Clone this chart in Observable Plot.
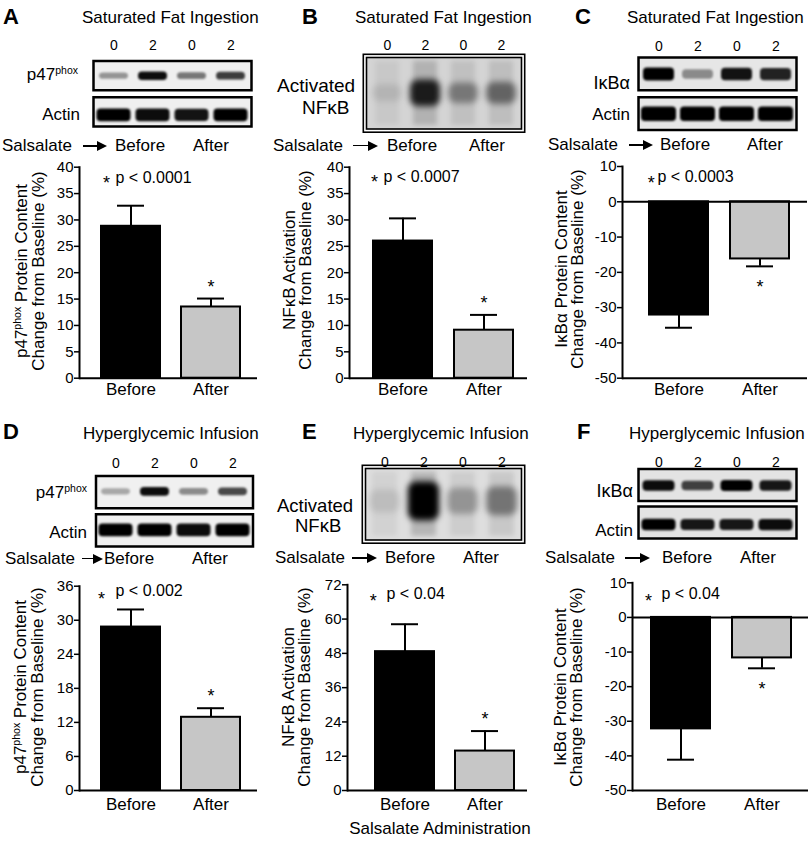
<!DOCTYPE html>
<html><head><meta charset="utf-8">
<script src="https://cdn.jsdelivr.net/npm/d3@7"></script>
<script src="https://cdn.jsdelivr.net/npm/@observablehq/plot@0.6"></script>
<style>
html,body{margin:0;padding:0;background:#fff;}
#fig{position:relative;width:810px;height:842px;overflow:hidden;font-family:"Liberation Sans",Arial,Helvetica,sans-serif;color:#000;}
#fig svg{position:absolute;}
.lbl{position:absolute;white-space:nowrap;line-height:1;}
.sup{font-size:10.5px;position:relative;top:-0.62em;}
.ylab{position:absolute;width:260px;text-align:center;font-size:17px;line-height:16px;white-space:nowrap;transform:translate(-50%,-50%) rotate(-90deg);}
.arrow{position:absolute;height:10px;}
.arrow .shaft{position:absolute;left:0;top:4.2px;height:1.6px;background:#000;}
.arrow .head{position:absolute;right:0;top:0;width:0;height:0;border-left:10px solid #000;border-top:5px solid transparent;border-bottom:5px solid transparent;}
</style></head>
<body><div id="fig"></div>
<script>
// ---------------- DATA ----------------
const groups = ["Before", "After"];
const laneTimes = ["0", "2", "0", "2"];
const laneGroups = ["Before", "Before", "After", "After"];
const conditions = ["Saturated Fat Ingestion", "Hyperglycemic Infusion"];
const panelLetters = ["A", "B", "C", "D", "E", "F"];

// bar means and SEM (% change from baseline)
const meanA = [28.8, 13.5];  const errA = [3.9, 1.6];
const meanB = [26.0, 9.1];   const errB = [4.3, 2.9];
const meanC = [-32.1, -16.2]; const errC = [3.6, 2.1];
const meanD = [28.8, 12.9];  const errD = [3.1, 1.6];
const meanE = [48.6, 13.8];  const errE = [9.6, 7.0];
const meanF = [-32.2, -11.7]; const errF = [8.9, 3.0];

// y-axis tick values
const ticksA = [0, 5, 10, 15, 20, 25, 30, 35, 40];
const ticksB = [0, 5, 10, 15, 20, 25, 30, 35, 40];
const ticksC = [-50, -40, -30, -20, -10, 0, 10];
const ticksD = [0, 6, 12, 18, 24, 30, 36];
const ticksE = [0, 12, 24, 36, 48, 60, 72];
const ticksF = [-50, -40, -30, -20, -10, 0, 10];

const pLabels = ["p < 0.0001", "p < 0.0007", "p < 0.0003", "p < 0.002", "p < 0.04", "p < 0.04"];

// blot band intensities (lanes: 0, 2 before; 0, 2 after)
const blotA_p47 = [0.38, 0.95, 0.5, 0.75];
const blotA_actin = [1.0, 0.95, 0.92, 1.0];
const blotB_nfkb = [0.1, 0.85, 0.38, 0.48];
const blotC_ikba = [1.0, 0.4, 0.92, 0.85];
const blotC_actin = [1.0, 1.0, 1.0, 1.0];
const blotD_p47 = [0.3, 0.95, 0.42, 0.7];
const blotD_actin = [1.0, 1.0, 0.95, 1.0];
const blotE_nfkb = [0.1, 1.0, 0.28, 0.42];
const blotF_ikba = [0.95, 0.72, 1.0, 0.9];
const blotF_actin = [1.0, 0.9, 0.9, 0.95];

// ---------------- STYLE ----------------
const FONT = '"Liberation Sans", Arial, Helvetica, sans-serif';
const barColors = ["#000000", "#c6c6c6"];
const fig = document.getElementById("fig");

function addSvg(svg, left, top) {
  svg.style.left = left + "px"; svg.style.top = top + "px";
  fig.appendChild(svg);
}
function text(html, x, y, opts = {}) {
  const {align = "left", size = 17, weight = "normal"} = opts;
  const d = document.createElement("div");
  d.className = "lbl"; d.innerHTML = html;
  d.style.left = x + "px"; d.style.top = y + "px";
  d.style.fontSize = size + "px"; d.style.fontWeight = weight;
  d.style.transform = `translate(${align === "left" ? "0" : align === "right" ? "-100%" : "-50%"},-50%)`;
  fig.appendChild(d);
}
function ylab(lines, cx, cy) {
  const d = document.createElement("div");
  d.className = "ylab"; d.innerHTML = lines.join("<br>");
  d.style.left = cx + "px"; d.style.top = cy + "px";
  fig.appendChild(d);
}
function arrow(x1, x2, y) {
  const d = document.createElement("div");
  d.className = "arrow";
  d.style.left = x1 + "px"; d.style.top = (y - 5) + "px"; d.style.width = (x2 - x1) + "px";
  d.innerHTML = `<div class="shaft" style="width:${x2 - x1 - 8}px"></div><div class="head"></div>`;
  fig.appendChild(d);
}
let blurCount = 0;
function makeBlur(svg, sd) {
  const ns = "http://www.w3.org/2000/svg";
  const id = "blotblur" + (blurCount++);
  let defs = svg.querySelector("defs");
  if (!defs) { defs = document.createElementNS(ns, "defs"); svg.insertBefore(defs, svg.firstChild); }
  const f = document.createElementNS(ns, "filter");
  f.setAttribute("id", id);
  f.setAttribute("x", "-80%"); f.setAttribute("y", "-150%");
  f.setAttribute("width", "260%"); f.setAttribute("height", "400%");
  const g = document.createElementNS(ns, "feGaussianBlur");
  g.setAttribute("in", "SourceGraphic");
  g.setAttribute("stdDeviation", String(sd));
  f.appendChild(g); defs.appendChild(f);
  return id;
}
function applyBlur(group, id) {
  if (!group) return;
  group.querySelectorAll("rect").forEach(r => r.setAttribute("filter", `url(#${id})`));
}

// ---------------- BAR CHARTS ----------------
function barChart(c) {
  const data = groups.map((g, i) => ({
    group: g, mean: c.mean[i], err: c.err[i],
    end: c.mean[i] + Math.sign(c.mean[i]) * c.err[i]
  }));
  const [mt, mr, mb, ml] = c.margins;
  const neg = c.ticks[0] < 0;
  const svg = Plot.plot({
    width: 270, height: c.height,
    marginTop: mt, marginRight: mr, marginBottom: mb, marginLeft: ml,
    style: {background: "transparent", overflow: "visible", fontFamily: FONT, color: "black"},
    x: {domain: groups, range: c.range, paddingInner: c.pad, paddingOuter: 0},
    y: {domain: [c.ticks[0], c.ticks[c.ticks.length - 1]]},
    color: {domain: groups, range: barColors},
    marks: [
      Plot.barY(data, {x: "group", y: "mean", fill: "group", stroke: "black", strokeWidth: 2}),
      Plot.ruleX(data, {x: "group", y1: "mean", y2: "end", stroke: "black", strokeWidth: 2}),
      Plot.tickY(data, {x: "group", y: "end", stroke: "black", strokeWidth: 2, insetLeft: 16, insetRight: 16}),
      neg ? Plot.ruleY([0], {stroke: "black", strokeWidth: 2}) : null,
      Plot.ruleY([c.ticks[0]], {stroke: "black", strokeWidth: 2}),
      Plot.frame({anchor: "left", stroke: "black", strokeWidth: 2}),
      Plot.axisY({ticks: c.ticks, tickSize: 5, tickPadding: 1, fontSize: 15, label: null, tickFormat: d => String(d), strokeWidth: 1.5}),
      Plot.axisX({tickSize: 0, tickPadding: c.xpad, fontSize: 17, label: null}),
      Plot.text(data.filter(d => d.group === "After"), {x: "group", y: "end", text: () => "*", fontSize: 18, dy: neg ? 21 : -11.5}),
      Plot.text([c.p], {text: d => d, frameAnchor: "top-left", textAnchor: "start", lineAnchor: "middle",
        dx: c.pPos[0] - c.left - ml, dy: c.pPos[1] - c.top - mt, fontSize: 16}),
      Plot.text(["*"], {text: d => d, frameAnchor: "top-left", textAnchor: "middle", lineAnchor: "middle",
        dx: c.sPos[0] - c.left - ml, dy: c.sPos[1] + 4.6 - c.top - mt, fontSize: 18})
    ]
  });
  addSvg(svg, c.left, c.top);
  ylab(c.ylabel, c.ylabPos[0], c.ylabPos[1]);
}

const bars = [
  {mean: meanA, err: errA, ticks: ticksA, left: 0, top: 150, height: 270, margins: [16.7, 13, 42.3, 79], range: [101, 240], pad: 0.2625, xpad: 5,
   p: pLabels[0], pPos: [115, 177], sPos: [106, 178.3], ylabPos: [30, 271],
   ylabel: ['p47<span class="sup">phox</span> Protein Content', 'Change from Baseline (%)']},
  {mean: meanB, err: errB, ticks: ticksB, left: 270, top: 150, height: 270, margins: [16.7, 13, 42.3, 79], range: [102, 244], pad: 0.268, xpad: 5,
   p: pLabels[1], pPos: [383, 176], sPos: [374, 177], ylabPos: [298, 270],
   ylabel: ['NF\u03baB Activation', 'Change from Baseline (%)']},
  {mean: meanC, err: errC, ticks: ticksC, left: 540, top: 150, height: 270, margins: [16, 3, 42.3, 82], range: [108, 250], pad: 0.268, xpad: 5,
   p: pLabels[2], pPos: [657, 176.7], sPos: [650.7, 178], ylabPos: [570, 269],
   ylabel: ['I\u03baB\u03b1 Protein Content', 'Change from Baseline (%)']},
  {mean: meanD, err: errD, ticks: ticksD, left: 0, top: 570, height: 272, margins: [15.7, 13, 52, 79], range: [101, 240], pad: 0.2625, xpad: 7,
   p: pLabels[3], pPos: [115, 590.7], sPos: [101, 594], ylabPos: [29, 687],
   ylabel: ['p47<span class="sup">phox</span> Protein Content', 'Change from Baseline (%)']},
  {mean: meanE, err: errE, ticks: ticksE, left: 270, top: 570, height: 272, margins: [14.3, 13, 52, 77], range: [104, 245], pad: 0.259, xpad: 7,
   p: pLabels[4], pPos: [386, 593.3], sPos: [372.7, 596], ylabPos: [297, 687],
   ylabel: ['NF\u03baB Activation', 'Change from Baseline (%)']},
  {mean: meanF, err: errF, ticks: ticksF, left: 540, top: 570, height: 272, margins: [12.3, 2, 52, 92], range: [111, 252], pad: 0.268, xpad: 7,
   p: pLabels[5], pPos: [661, 593], sPos: [648, 596], ylabPos: [569, 687],
   ylabel: ['I\u03baB\u03b1 Protein Content', 'Change from Baseline (%)']}
];

// ---------------- BLOTS ----------------
const lanes = laneTimes.map((_, i) => i);
function blotChart(c) {
  const data = [];
  c.rows.forEach(r => r.values.forEach((v, i) => data.push({lane: i, row: r.name, v, pos: r.pos, half: r.half})));
  const [mt, mr, mb, ml] = c.margins;
  const emsa = c.kind === "emsa";
  const faceted = c.rows.length > 1;
  const fy = faceted ? {fy: "row"} : {};
  const marks = [Plot.frame({fill: c.bg, stroke: "none"})];
  if (emsa) {
    marks.push(Plot.barY(data, {x: "lane", y1: 0.05, y2: 0.95, fill: "black", fillOpacity: d => 0.04 + 0.14 * d.v,
      insetLeft: 7, insetRight: 7, ariaLabel: "streak", clip: true}));
  }
  c.rows.forEach(r => {
    marks.push(Plot.barY(data.filter(d => d.row === r.name), {x: "lane", ...fy,
      y1: d => d.pos - d.half * (0.55 + 0.45 * d.v), y2: d => d.pos + d.half * (0.55 + 0.45 * d.v),
      fill: "black", fillOpacity: d => Math.min(1, d.v), insetLeft: r.inset, insetRight: r.inset,
      ariaLabel: "band", clip: true, rx: emsa ? 8 : 4}));
  });
  marks.push(Plot.frame({stroke: "black", strokeWidth: emsa ? 1.6 : 2.5, fill: "none"}));
  if (emsa) marks.push(Plot.frame({stroke: "black", strokeWidth: 1.6, fill: "none", inset: -3.2}));
  marks.push(Plot.axisX({anchor: "top", tickSize: 0, tickPadding: c.tp, fontSize: 14, label: null, tickFormat: i => laneTimes[i]}));
  const svg = Plot.plot({
    width: 270, height: c.height,
    marginTop: mt, marginRight: mr, marginBottom: mb, marginLeft: ml,
    style: {background: "transparent", overflow: "visible", fontFamily: FONT, color: "black"},
    x: {domain: lanes, paddingInner: 0, paddingOuter: 0},
    y: {domain: [0, 1], reverse: true, axis: null},
    ...(faceted ? {fy: {domain: c.rows.map(r => r.name), axis: null, paddingInner: c.gap, paddingOuter: 0, round: false}} : {}),
    marks
  });
  // blur the band rectangles so they look like blot bands
  const bandBlur = makeBlur(svg, emsa ? 3.4 : 1.3);
  let bandGroups = Array.from(svg.querySelectorAll('g[aria-label="band"]'));
  let streakGroups = Array.from(svg.querySelectorAll('g[aria-label="streak"]'));
  if (!bandGroups.length) {
    const barGroups = Array.from(svg.querySelectorAll('g[aria-label="bar"]'));
    if (emsa) { streakGroups = barGroups.slice(0, 1); bandGroups = barGroups.slice(1); }
    else bandGroups = barGroups;
  }
  bandGroups.forEach(g => applyBlur(g, bandBlur));
  if (emsa) {
    const streakBlur = makeBlur(svg, 2.6);
    streakGroups.forEach(g => applyBlur(g, streakBlur));
  }
  addSvg(svg, c.left, c.top);
}

const blots = [
  {left: 0, top: 25, height: 110, margins: [35.5, 19, 9, 93], gap: 0.193, tp: 11.5, bg: "#efefef",
   rows: [{name: "p47", values: blotA_p47, pos: 0.52, half: 0.15, inset: 5}, {name: "Actin", values: blotA_actin, pos: 0.62, half: 0.22, inset: 2.5}]},
  {left: 270, top: 25, height: 110, margins: [32, 19, 6.5, 96], tp: 8, bg: "#d4d4d4", kind: "emsa",
   rows: [{name: "NFkB", values: blotB_nfkb, pos: 0.5, half: 0.2, inset: 4}]},
  {left: 540, top: 25, height: 110, margins: [32, 14, 5.5, 98], gap: 0.176, tp: 7, bg: "#e6e6e6",
   rows: [{name: "IkBa", values: blotC_ikba, pos: 0.52, half: 0.2, inset: 4}, {name: "Actin", values: blotC_actin, pos: 0.52, half: 0.22, inset: 2}]},
  {left: 0, top: 440, height: 115, margins: [35.5, 17.5, 9, 95.5], gap: 0.157, tp: 8, bg: "#f0f0f0",
   rows: [{name: "p47", values: blotD_p47, pos: 0.49, half: 0.14, inset: 5}, {name: "Actin", values: blotD_actin, pos: 0.5, half: 0.2, inset: 2.5}]},
  {left: 270, top: 440, height: 110, margins: [28, 19, 10.5, 95], tp: 2, bg: "#dedede", kind: "emsa",
   rows: [{name: "NFkB", values: blotE_nfkb, pos: 0.46, half: 0.27, inset: 4}]},
  {left: 540, top: 440, height: 110, margins: [28.5, 14, 12, 98], gap: 0.147, tp: 2.5, bg: "#e3e3e3",
   rows: [{name: "IkBa", values: blotF_ikba, pos: 0.53, half: 0.17, inset: 3.5}, {name: "Actin", values: blotF_actin, pos: 0.58, half: 0.18, inset: 2.5}]}
];

blots.forEach(blotChart);
bars.forEach(barChart);

// ---------------- TEXT ----------------
const letterPos = [[3, 17], [302, 17], [575, 17], [3, 432], [302, 432], [577, 432]];
const titlePos = [[82, 17], [355, 17], [627, 17], [83, 433], [353, 433], [629, 433]];
panelLetters.forEach((L, i) => {
  text(L, letterPos[i][0], letterPos[i][1], {size: 22, weight: "bold"});
  text(conditions[i < 3 ? 0 : 1], titlePos[i][0], titlePos[i][1], {size: 17});
});
text('p47<span class="sup">phox</span>', 78, 74, {align: "right"});
text("Actin", 80, 114, {align: "right"});
text("Activated", 277, 85, {size: 19});
text("NF\u03baB", 302, 106.5, {size: 19});
text("I\u03baB\u03b1", 630, 83, {align: "right", size: 18});
text("Actin", 630, 114, {align: "right"});
text('p47<span class="sup">phox</span>', 87, 492, {align: "right"});
text("Actin", 87, 532, {align: "right"});
text("Activated", 277, 506, {size: 18.5});
text("NF\u03baB", 295, 526, {size: 18.5});
text("I\u03baB\u03b1", 633, 491, {align: "right", size: 18});
text("Actin", 633, 530, {align: "right"});
const salsRows = [
  {x: 2, y: 145, a: [83, 107], b: 115, f: 193},
  {x: 273, y: 144.5, a: [353, 378], b: 387, f: 469},
  {x: 548, y: 144, a: [629, 653], b: 660, f: 747},
  {x: 5, y: 557.5, a: [82, 103], b: 104, f: 192},
  {x: 275, y: 557, a: [352, 377], b: 385, f: 463},
  {x: 545, y: 557, a: [625, 650], b: 662, f: 740}
];
salsRows.forEach(s => {
  text("Salsalate", s.x, s.y);
  arrow(s.a[0], s.a[1], s.y + 1);
  text(laneGroups[0], s.b, s.y);
  text(laneGroups[2], s.f, s.y);
});
text("Salsalate Administration", 440, 828, {align: "center"});
</script></body></html>
